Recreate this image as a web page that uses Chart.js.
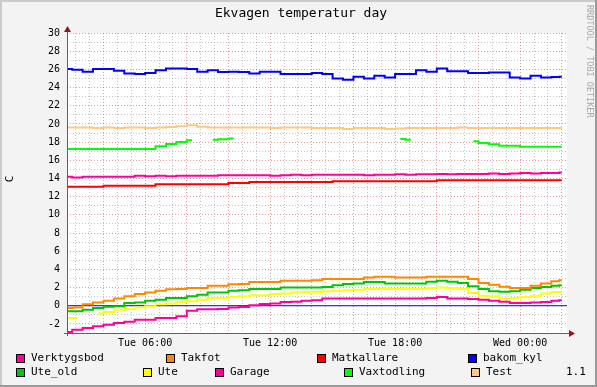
<!DOCTYPE html>
<html>
<head>
<meta charset="utf-8">
<script src="https://cdn.jsdelivr.net/npm/chart.js@4.4.0/dist/chart.umd.min.js"></script>
<style>
  html, body { margin: 0; padding: 0; background: #f3f3f3; }
</style>
</head>
<body>
<canvas id="rrd" width="597" height="387"></canvas>
<script>
// sample times, hours since Tue 00:00
const hours = [2.25, 2.75, 3.25, 3.75, 4.25, 4.75, 5.25, 5.75, 6.25, 6.75,
  7.25, 7.75, 8.25, 8.75, 9.25, 9.75, 10.25, 10.75, 11.25, 11.75,
  12.25, 12.75, 13.25, 13.75, 14.25, 14.75, 15.25, 15.75, 16.25, 16.75,
  17.25, 17.75, 18.25, 18.75, 19.25, 19.75, 20.25, 20.75, 21.25, 21.75,
  22.25, 22.75, 23.25, 23.75, 24.25, 24.75, 25.25, 25.75, 26.0];

const xTickHours = [6, 12, 18, 24];
const xTickLabels = ['Tue 06:00', 'Tue 12:00', 'Tue 18:00', 'Wed 00:00'];

const verktygsbod = [-2.9, -2.65, -2.45, -2.25, -2.1, -1.9, -1.75, -1.55, -1.55, -1.35,
  -1.35, -1.15, -0.55, -0.4, -0.4, -0.35, -0.2, -0.15, 0.05, 0.2,
  0.25, 0.4, 0.45, 0.55, 0.6, 0.8, 0.8, 0.8, 0.8, 0.8,
  0.8, 0.8, 0.8, 0.8, 0.8, 0.85, 0.95, 0.8, 0.8, 0.75,
  0.65, 0.55, 0.45, 0.3, 0.3, 0.35, 0.4, 0.55, 0.6];
const takfot = [-0.25, -0.2, 0.15, 0.35, 0.55, 0.8, 1.05, 1.3, 1.45, 1.65,
  1.8, 1.85, 1.95, 1.95, 2.2, 2.2, 2.35, 2.4, 2.6, 2.6,
  2.6, 2.75, 2.75, 2.75, 2.8, 2.95, 2.95, 2.95, 2.95, 3.1,
  3.2, 3.2, 3.1, 3.1, 3.1, 3.2, 3.2, 3.2, 3.2, 2.95,
  2.5, 2.3, 2.1, 1.95, 1.95, 2.2, 2.45, 2.7, 2.8];
const matkallare = [13.1, 13.1, 13.1, 13.1, 13.2, 13.2, 13.2, 13.2, 13.2, 13.35,
  13.35, 13.35, 13.35, 13.35, 13.35, 13.35, 13.5, 13.5, 13.6, 13.6,
  13.6, 13.6, 13.6, 13.6, 13.6, 13.6, 13.7, 13.7, 13.7, 13.7,
  13.7, 13.7, 13.7, 13.7, 13.7, 13.7, 13.8, 13.8, 13.8, 13.8,
  13.8, 13.8, 13.8, 13.8, 13.8, 13.8, 13.8, 13.8, 13.8];
const bakomKyl = [26.05, 25.95, 25.75, 26.05, 26.05, 25.85, 25.55, 25.5, 25.6, 25.9,
  26.1, 26.1, 26.05, 25.75, 25.9, 25.7, 25.75, 25.7, 25.55, 25.75,
  25.75, 25.5, 25.5, 25.5, 25.6, 25.5, 25.0, 24.85, 25.2, 25.0,
  25.3, 25.1, 25.5, 25.5, 25.9, 25.75, 26.1, 25.8, 25.8, 25.6,
  25.6, 25.65, 25.65, 25.1, 25.0, 25.3, 25.1, 25.15, 25.2];
const uteOld = [-0.6, -0.6, -0.45, -0.25, -0.1, -0.05, 0.3, 0.35, 0.55, 0.65,
  0.85, 0.85, 1.05, 1.2, 1.45, 1.45, 1.65, 1.7, 1.85, 1.85,
  1.85, 2.0, 2.0, 2.0, 2.0, 2.05, 2.25, 2.4, 2.45, 2.6,
  2.6, 2.45, 2.45, 2.45, 2.45, 2.65, 2.75, 2.65, 2.5, 2.15,
  1.85, 1.6, 1.55, 1.6, 1.75, 1.95, 2.05, 2.2, 2.25];
const ute = [-1.35, -1.35, null, -0.85, -0.7, -0.45, -0.35, -0.2, -0.05, 0.15,
  0.25, 0.4, 0.5, 0.65, 0.85, 0.85, 1.0, 1.05, 1.15, 1.15,
  1.3, 1.35, 1.45, 1.5, 1.5, 1.6, 1.65, 1.7, 1.75, 1.85,
  1.85, 1.85, 1.85, 1.85, 1.85, 1.95, 2.0, 1.95, 1.85, 1.4,
  1.1, 1.05, 0.8, 0.85, 0.95, 1.1, 1.35, 1.5, 1.5];
const garage = [14.2, 14.1, 14.2, 14.2, 14.2, 14.2, 14.2, 14.3, 14.25, 14.3,
  14.25, 14.3, 14.3, 14.3, 14.3, 14.35, 14.35, 14.35, 14.35, 14.35,
  14.3, 14.35, 14.4, 14.35, 14.4, 14.4, 14.4, 14.4, 14.4, 14.35,
  14.4, 14.4, 14.45, 14.4, 14.45, 14.45, 14.5, 14.45, 14.5, 14.5,
  14.5, 14.55, 14.5, 14.55, 14.6, 14.55, 14.6, 14.6, 14.65];
const vaxtodling = [17.25, 17.25, 17.25, 17.25, 17.25, 17.25, 17.25, 17.25, 17.25, 17.55,
  17.8, 18.0, 18.2, null, 18.25, 18.3, 18.4, null, null, null,
  null, null, null, null, null, null, null, null, null, null,
  null, null, 18.35, 18.25, null, null, null, null, null, 18.1,
  17.9, 17.75, 17.6, 17.6, 17.5, 17.5, 17.5, 17.5, 17.5];
const test = [19.6, 19.6, 19.6, 19.55, 19.6, 19.55, 19.6, 19.6, 19.55, 19.6,
  19.65, 19.75, 19.85, 19.7, 19.6, 19.6, 19.6, 19.6, 19.6, 19.6,
  19.55, 19.6, 19.6, 19.6, 19.55, 19.55, 19.55, 19.45, 19.55, 19.55,
  19.55, 19.45, 19.5, 19.55, 19.55, 19.55, 19.55, 19.55, 19.6, 19.55,
  19.55, 19.55, 19.55, 19.55, 19.55, 19.55, 19.55, 19.55, 19.55];

const zeroRule = 0;

const series = [
  { name: 'Verktygsbod', color: '#ff0099', values: verktygsbod },
  { name: 'Takfot', color: '#ff8800', values: takfot },
  { name: 'Matkallare', color: '#ff0000', values: matkallare },
  { name: 'bakom_kyl', color: '#0000ff', values: bakomKyl },
  { name: 'Ute_old', color: '#00c800', values: uteOld },
  { name: 'Ute', color: '#ffff00', values: ute },
  { name: 'Garage', color: '#ff0099', values: garage },
  { name: 'Vaxtodling', color: '#00ff00', values: vaxtodling },
  { name: 'Test', color: '#ffc880', values: test }
];

// legend layout: two rows like rrdtool
const legendSlots = [
  { x: 16, row: 0 }, { x: 166, row: 0 }, { x: 317, row: 0 }, { x: 468, row: 0 },
  { x: 16, row: 1 }, { x: 143, row: 1 }, { x: 215, row: 1 }, { x: 344, row: 1 }, { x: 471, row: 1 }
];

const X_MIN = 2.25, X_MAX = 26.25;
const MONO = '"DejaVu Sans Mono", monospace';

const datasets = series.map(s => ({
  label: s.name,
  data: hours.map((t, i) => ({ x: t, y: s.values[i] })),
  borderColor: s.color,
  borderWidth: 2,
  pointRadius: 0,
  stepped: 'middle',
  spanGaps: false,
  fill: false
}));

datasets.push({
  label: '',
  data: [{ x: X_MIN, y: zeroRule }, { x: X_MAX, y: zeroRule }],
  borderColor: '#0000ff',
  borderWidth: 1,
  pointRadius: 0,
  fill: false
});

const isMajorX = v => Math.round(v * 60) % 120 === 0;

const rrdFrame = {
  id: 'rrdFrame',
  beforeDraw(chart) {
    const { ctx, chartArea: a, width: w, height: h } = chart;
    ctx.save();
    ctx.fillStyle = '#f3f3f3';
    ctx.fillRect(0, 0, w, h);
    ctx.fillStyle = '#cbcbcb';
    ctx.fillRect(0, 0, w, 2);
    ctx.fillRect(0, 0, 2, h);
    ctx.fillStyle = '#999999';
    ctx.fillRect(0, h - 2, w, 2);
    ctx.fillRect(w - 2, 0, 2, h);
    ctx.fillStyle = '#ffffff';
    ctx.fillRect(a.left, a.top, a.right - a.left, a.bottom - a.top);
    ctx.restore();
  },
  afterDraw(chart) {
    const { ctx, chartArea: a } = chart;
    ctx.save();

    // axes
    ctx.strokeStyle = '#606060';
    ctx.lineWidth = 1;
    ctx.beginPath();
    ctx.moveTo(a.left + 0.5, a.top - 3);
    ctx.lineTo(a.left + 0.5, a.bottom + 3);
    ctx.moveTo(a.left - 3, a.bottom + 0.5);
    ctx.lineTo(a.right + 2, a.bottom + 0.5);
    ctx.stroke();

    // arrows
    ctx.fillStyle = '#8b1a1a';
    ctx.beginPath();
    ctx.moveTo(a.right + 2, a.bottom - 3);
    ctx.lineTo(a.right + 8, a.bottom + 0.5);
    ctx.lineTo(a.right + 2, a.bottom + 4);
    ctx.closePath();
    ctx.fill();
    ctx.beginPath();
    ctx.moveTo(a.left - 3, a.top - 1);
    ctx.lineTo(a.left + 0.5, a.top - 7);
    ctx.lineTo(a.left + 4, a.top - 1);
    ctx.closePath();
    ctx.fill();

    // title
    ctx.fillStyle = '#000';
    ctx.font = '13px ' + MONO;
    ctx.textAlign = 'center';
    ctx.textBaseline = 'middle';
    ctx.fillText('Ekvagen temperatur day', 301, 14);

    // unit
    ctx.save();
    ctx.font = '11px ' + MONO;
    ctx.translate(10, 179);
    ctx.rotate(-Math.PI / 2);
    ctx.fillText('C', 0, 0);
    ctx.restore();

    // watermark
    ctx.save();
    ctx.fillStyle = '#a8a8a8';
    ctx.font = '8.5px ' + MONO;
    ctx.textAlign = 'left';
    ctx.translate(589, 5);
    ctx.rotate(Math.PI / 2);
    ctx.fillText('RRDTOOL / TOBI OETIKER', 0, 0);
    ctx.restore();

    // legend
    ctx.font = '11px ' + MONO;
    ctx.textAlign = 'left';
    ctx.textBaseline = 'middle';
    const rowTop = [354, 368];
    series.forEach((s, i) => {
      const slot = legendSlots[i];
      const y = rowTop[slot.row];
      ctx.fillStyle = s.color;
      ctx.fillRect(slot.x, y, 9, 9);
      ctx.strokeStyle = '#000';
      ctx.strokeRect(slot.x + 0.5, y + 0.5, 8, 8);
      ctx.fillStyle = '#000';
      ctx.fillText(s.name, slot.x + 15, y + 4.5);
    });
    ctx.fillText('1.1', 566, rowTop[1] + 4.5);

    ctx.restore();
  }
};

new Chart(document.getElementById('rrd'), {
  type: 'line',
  data: { datasets },
  plugins: [rrdFrame],
  options: {
    responsive: false,
    animation: false,
    devicePixelRatio: 1,
    events: [],
    layout: { padding: { top: 33, right: 30, bottom: 34, left: 0 } },
    plugins: {
      legend: { display: false },
      title: { display: false },
      tooltip: { enabled: false }
    },
    scales: {
      x: {
        type: 'linear',
        min: X_MIN,
        max: X_MAX,
        afterFit: scale => { scale.height = 20; },
        afterBuildTicks: scale => {
          const ticks = [];
          for (let m = 160; m <= 1560; m += 40) ticks.push({ value: m / 60 });
          scale.ticks = ticks;
        },
        border: { display: false, dash: [1, 2] },
        grid: {
          drawTicks: false,
          color: c => (c.tick && isMajorX(c.tick.value)) ? 'rgba(210,60,60,0.5)' : 'rgba(150,150,150,0.55)'
        },
        ticks: {
          autoSkip: false,
          maxRotation: 0,
          minRotation: 0,
          padding: 4,
          color: '#000',
          font: { family: MONO, size: 10 },
          callback: v => {
            const idx = xTickHours.indexOf(Math.round(v * 60) / 60);
            return idx >= 0 ? xTickLabels[idx] : '';
          }
        }
      },
      y: {
        min: -3,
        max: 30,
        afterFit: scale => { scale.width = 67; },
        border: { display: false, dash: [1, 2] },
        grid: {
          drawTicks: false,
          color: c => (c.tick && c.tick.value % 2 === 0) ? 'rgba(210,60,60,0.5)' : 'rgba(150,150,150,0.55)'
        },
        ticks: {
          stepSize: 1,
          autoSkip: false,
          padding: 7,
          color: '#000',
          font: { family: MONO, size: 10 },
          callback: v => (v % 2 === 0) ? String(v) : ''
        }
      }
    }
  }
});
</script>
</body>
</html>
